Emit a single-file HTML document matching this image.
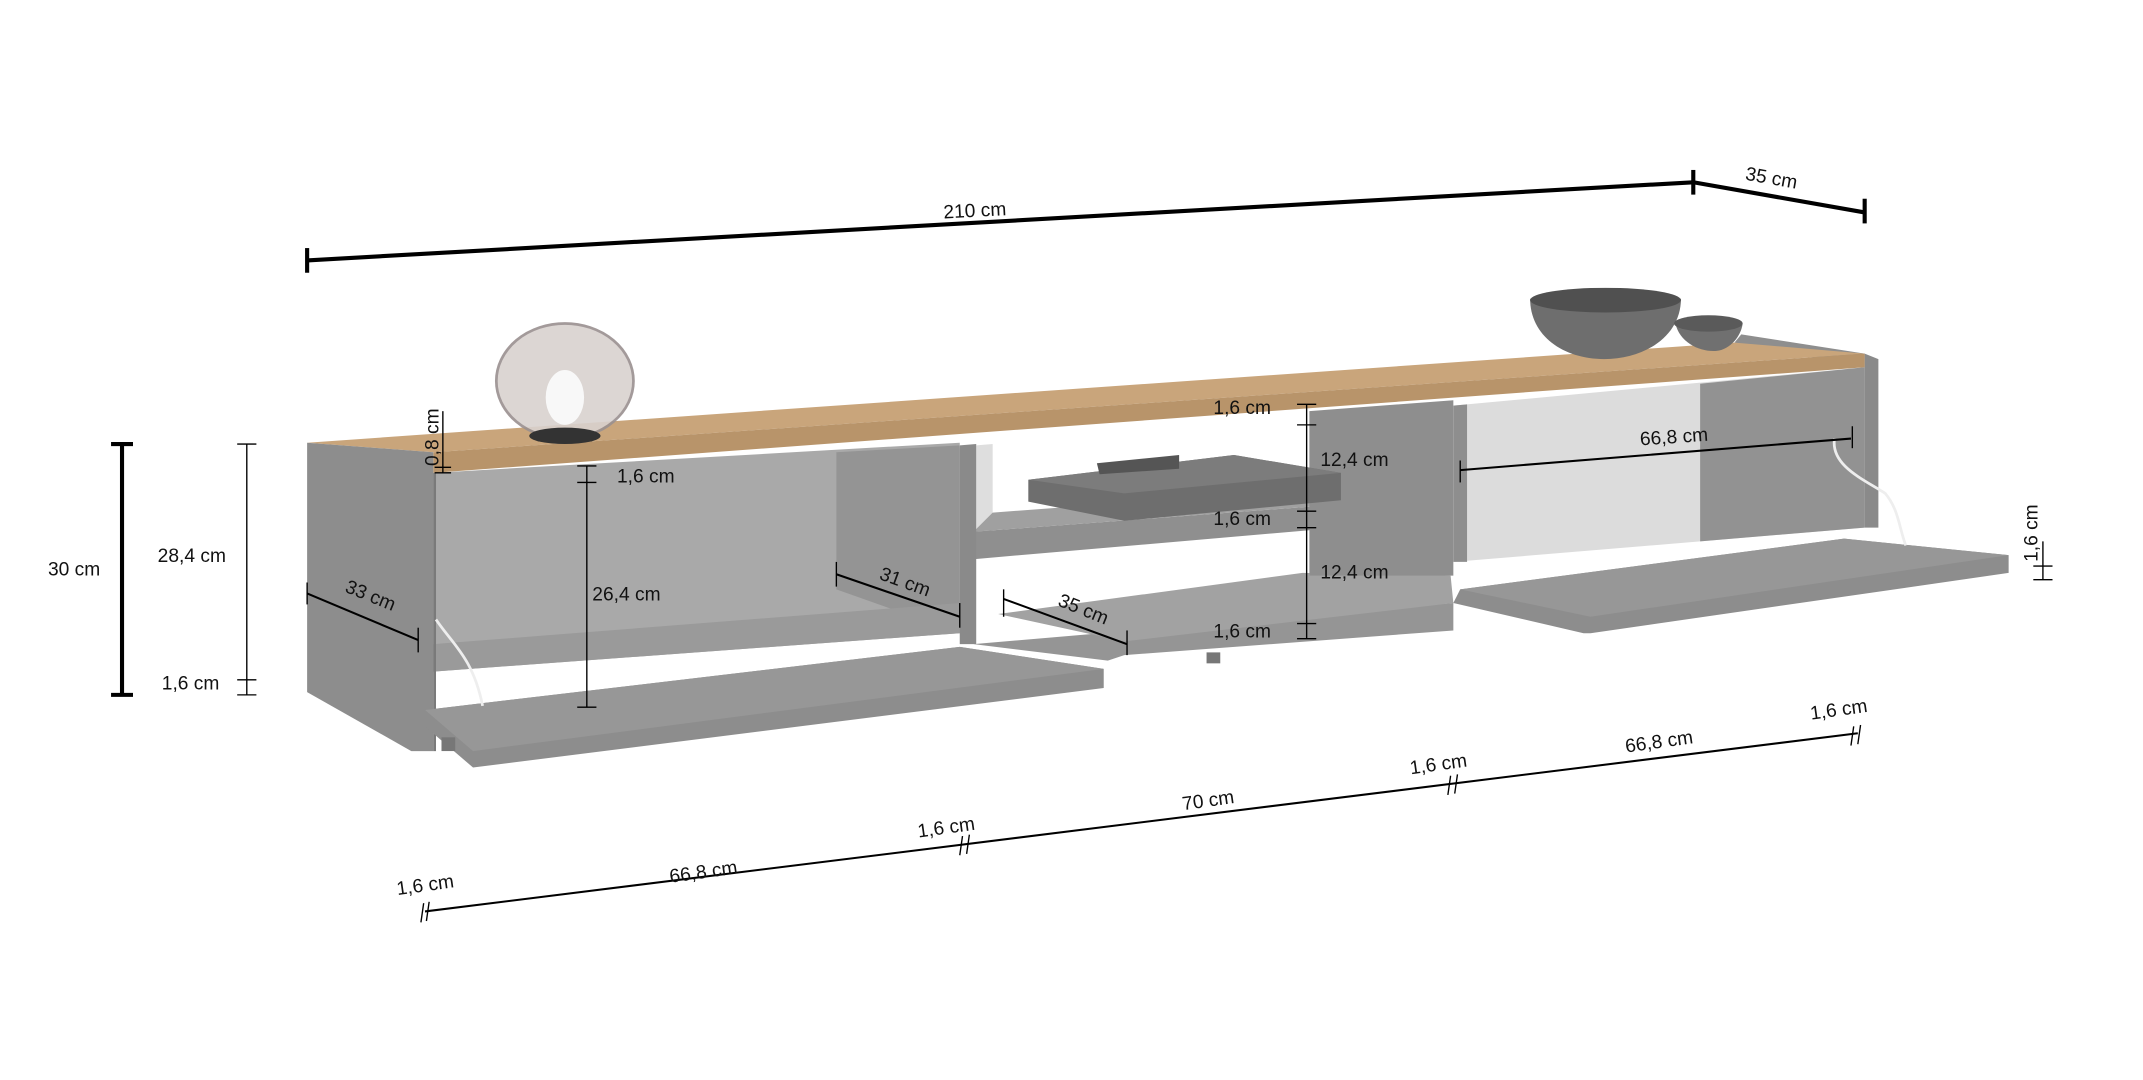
<!DOCTYPE html>
<html><head><meta charset="utf-8"><style>
html,body{margin:0;padding:0;background:#fff;}
svg{display:block;}
text{font-family:"Liberation Sans",sans-serif;font-size:14px;fill:#111;}
</style></head><body>
<svg width="2143" height="1080" viewBox="0 0 1563 788" preserveAspectRatio="none" xmlns="http://www.w3.org/2000/svg">
<!-- back right edge -->
<polygon points="1265,250 1270,244 1360,258 1360,268" fill="#8e8e8e"/>
<!-- left cabinet interior -->
<polygon points="316,345 700,323 700,462 316,490" fill="#a9a9a9"/>
<polygon points="610,330 700,325 700,462 610,430" fill="#949494"/>
<polygon points="316,470 700,440 700,462 316,490" fill="#9a9a9a"/>
<!-- middle section -->
<polygon points="700,325 1060,300 1060,460 710,470" fill="#ffffff"/>
<polygon points="712,325 724,324 724,402 712,402" fill="#dedede"/>
<polygon points="710,388 1058,362 1058,378 710,408" fill="#8f8f8f"/>
<polygon points="724,374 980,355 1058,362 710,388" fill="#a0a0a0"/>
<polygon points="710,470 1060,440 1060,460 820,478 808,482" fill="#959595"/>
<polygon points="728,448 950,418 1058,420 1060,440 820,468" fill="#a2a2a2"/>
<polygon points="955,300 1060,292 1060,420 955,420" fill="#8e8e8e"/>
<polygon points="700,325 712,324 712,470 700,470" fill="#8a8a8a"/>
<!-- receiver -->
<polygon points="750,350 900,332 978,345 978,365 820,380 750,366" fill="#6e6e6e"/>
<polygon points="750,350 900,332 978,345 820,360" fill="#7c7c7c"/>
<polygon points="800,338 860,332 860,342 802,346" fill="#555"/>
<!-- right cabinet -->
<polygon points="1060,296 1360,268 1360,385 1060,410" fill="#dcdcdc"/>
<polygon points="1240,280 1360,268 1360,385 1240,395" fill="#929292"/>
<polygon points="1060,296 1070,295 1070,410 1060,410" fill="#8e8e8e"/>
<polygon points="1360,258 1370,262 1370,385 1360,385" fill="#8a8a8a"/>
<!-- right door -->
<polygon points="1065,430 1345,393 1465,405 1465,418 1160,462 1155,462 1060,440" fill="#8d8d8d"/>
<polygon points="1065,430 1345,393 1465,405 1160,450" fill="#979797"/>
<!-- wood top -->
<polygon points="224,323 1265,250 1360,258 316,330" fill="#c9a57b"/>
<polygon points="316,330 1360,258 1360,268 316,345" fill="#b8946a"/>
<!-- left side panel -->
<polygon points="224,323 316,330 316,548 300,548 224,505" fill="#8d8d8d"/>
<polygon points="316,345 318,345 318,548 316,548" fill="#7a7a7a"/>
<!-- left door -->
<polygon points="310,518 700,472 805,488 805,502 345,560 310,530" fill="#8d8d8d"/>
<polygon points="310,518 700,472 805,488 345,548" fill="#979797"/>
<rect x="322" y="538" width="10" height="10" fill="#777"/>
<rect x="880" y="476" width="10" height="8" fill="#777"/>
<!-- cables -->
<path d="M318,452 C330,470 345,480 352,515" stroke="#eee" stroke-width="2" fill="none"/>
<path d="M1338,320 C1335,340 1360,350 1375,360 C1385,372 1385,385 1390,398" stroke="#eee" stroke-width="2" fill="none"/>
<!-- lamp -->
<ellipse cx="412" cy="278" rx="50" ry="42" fill="#d9d2cf" stroke="#9a9090" stroke-width="2" opacity="0.9"/>
<ellipse cx="412" cy="290" rx="14" ry="20" fill="#f8f8f8"/>
<ellipse cx="412" cy="318" rx="26" ry="6" fill="#333"/>
<!-- bowls -->
<path d="M1116,218 C1116,245 1140,262 1170,262 C1200,262 1226,245 1226,218 Z" fill="#6e6e6e"/>
<ellipse cx="1171" cy="219" rx="55" ry="9" fill="#505050"/>
<path d="M1222,236 C1225,250 1240,257 1252,256 C1262,255 1270,245 1271,236 Z" fill="#707070"/>
<ellipse cx="1246" cy="236" rx="25" ry="6" fill="#5a5a5a"/>
<!-- 210 / 35 dims -->
<g stroke="#000" fill="none">
<line x1="224" y1="190" x2="1235" y2="133" stroke-width="3"/>
<line x1="224" y1="181" x2="224" y2="199" stroke-width="3"/>
<line x1="1235" y1="124" x2="1235" y2="142" stroke-width="3"/>
<line x1="1235" y1="133" x2="1360" y2="155" stroke-width="3"/>
<line x1="1360" y1="145" x2="1360" y2="163" stroke-width="3"/>
<!-- 30cm -->
<line x1="89" y1="324" x2="89" y2="507" stroke-width="3"/>
<line x1="81" y1="324" x2="97" y2="324" stroke-width="3"/>
<line x1="81" y1="507" x2="97" y2="507" stroke-width="3"/>
<!-- 28,4 -->
<line x1="180" y1="324" x2="180" y2="507" stroke-width="1"/>
<line x1="173" y1="324" x2="187" y2="324"/><line x1="173" y1="496" x2="187" y2="496"/><line x1="173" y1="507" x2="187" y2="507"/>
<!-- 0,8 -->
<line x1="323" y1="300" x2="323" y2="345"/><line x1="317" y1="341" x2="329" y2="341"/><line x1="317" y1="345" x2="329" y2="345"/>
<!-- 26,4 -->
<line x1="428" y1="340" x2="428" y2="516"/>
<line x1="421" y1="340" x2="435" y2="340"/><line x1="421" y1="352" x2="435" y2="352"/><line x1="421" y1="516" x2="435" y2="516"/>
<!-- 33,31,35 -->
<line x1="224" y1="433" x2="305" y2="467" stroke-width="1.5"/>
<line x1="224" y1="425" x2="224" y2="441"/><line x1="305" y1="458" x2="305" y2="476"/>
<line x1="610" y1="419" x2="700" y2="450" stroke-width="1.5"/>
<line x1="610" y1="410" x2="610" y2="428"/><line x1="700" y1="440" x2="700" y2="458"/>
<line x1="732" y1="437" x2="822" y2="470" stroke-width="1.5"/>
<line x1="732" y1="430" x2="732" y2="450"/><line x1="822" y1="460" x2="822" y2="478"/>
<!-- vertical middle -->
<line x1="953" y1="295" x2="953" y2="466"/>
<line x1="946" y1="295" x2="960" y2="295"/><line x1="946" y1="310" x2="960" y2="310"/>
<line x1="946" y1="373" x2="960" y2="373"/><line x1="946" y1="385" x2="960" y2="385"/>
<line x1="946" y1="455" x2="960" y2="455"/><line x1="946" y1="466" x2="960" y2="466"/>
<!-- 66,8 right inner -->
<line x1="1065" y1="343" x2="1350" y2="320" stroke-width="1.5"/>
<line x1="1065" y1="336" x2="1065" y2="352"/><line x1="1351" y1="311" x2="1351" y2="327"/>
<!-- 1,6 right -->
<line x1="1490" y1="395" x2="1490" y2="423"/><line x1="1483" y1="413" x2="1497" y2="413"/><line x1="1483" y1="423" x2="1497" y2="423"/>
<!-- bottom chain -->
<line x1="310" y1="665" x2="1355" y2="535" stroke-width="1.5"/>
<line x1="309" y1="659" x2="307" y2="673"/><line x1="313" y1="658" x2="311" y2="672"/>
<line x1="702" y1="610" x2="700" y2="624"/><line x1="707" y1="609" x2="705" y2="623"/>
<line x1="1058" y1="566" x2="1056" y2="580"/><line x1="1063" y1="565" x2="1061" y2="579"/>
<line x1="1352" y1="530" x2="1350" y2="544"/><line x1="1357" y1="529" x2="1355" y2="543"/>
</g>
<!-- labels -->
<text x="688" y="158" transform="rotate(-3 715 153)">210 cm</text>
<text x="1273" y="135" transform="rotate(10 1295 130)">35 cm</text>
<text x="35" y="420">30 cm</text>
<text x="115" y="410">28,4 cm</text>
<text x="118" y="503">1,6 cm</text>
<text x="0" y="0" transform="translate(320,340) rotate(-90)">0,8 cm</text>
<text x="450" y="352">1,6 cm</text>
<text x="432" y="438">26,4 cm</text>
<text x="250" y="440" transform="rotate(22 272 438)">33 cm</text>
<text x="640" y="430" transform="rotate(20 662 428)">31 cm</text>
<text x="770" y="450" transform="rotate(22 792 448)">35 cm</text>
<text x="885" y="302">1,6 cm</text>
<text x="963" y="340">12,4 cm</text>
<text x="885" y="383">1,6 cm</text>
<text x="963" y="422">12,4 cm</text>
<text x="885" y="465">1,6 cm</text>
<text x="1196" y="323" transform="rotate(-4 1225 318)">66,8 cm</text>
<text x="0" y="0" transform="translate(1486,410) rotate(-90)">1,6 cm</text>
<text x="289" y="650" transform="rotate(-8 312 645)">1,6 cm</text>
<text x="488" y="640" transform="rotate(-8 518 635)">66,8  cm</text>
<text x="669" y="608" transform="rotate(-8 692 603)">1,6 cm</text>
<text x="862" y="588" transform="rotate(-8 885 583)">70  cm</text>
<text x="1028" y="562" transform="rotate(-8 1050 557)">1,6 cm</text>
<text x="1185" y="545" transform="rotate(-8 1215 540)">66,8  cm</text>
<text x="1320" y="522" transform="rotate(-8 1343 517)">1,6 cm</text>
</svg>
</body></html>
